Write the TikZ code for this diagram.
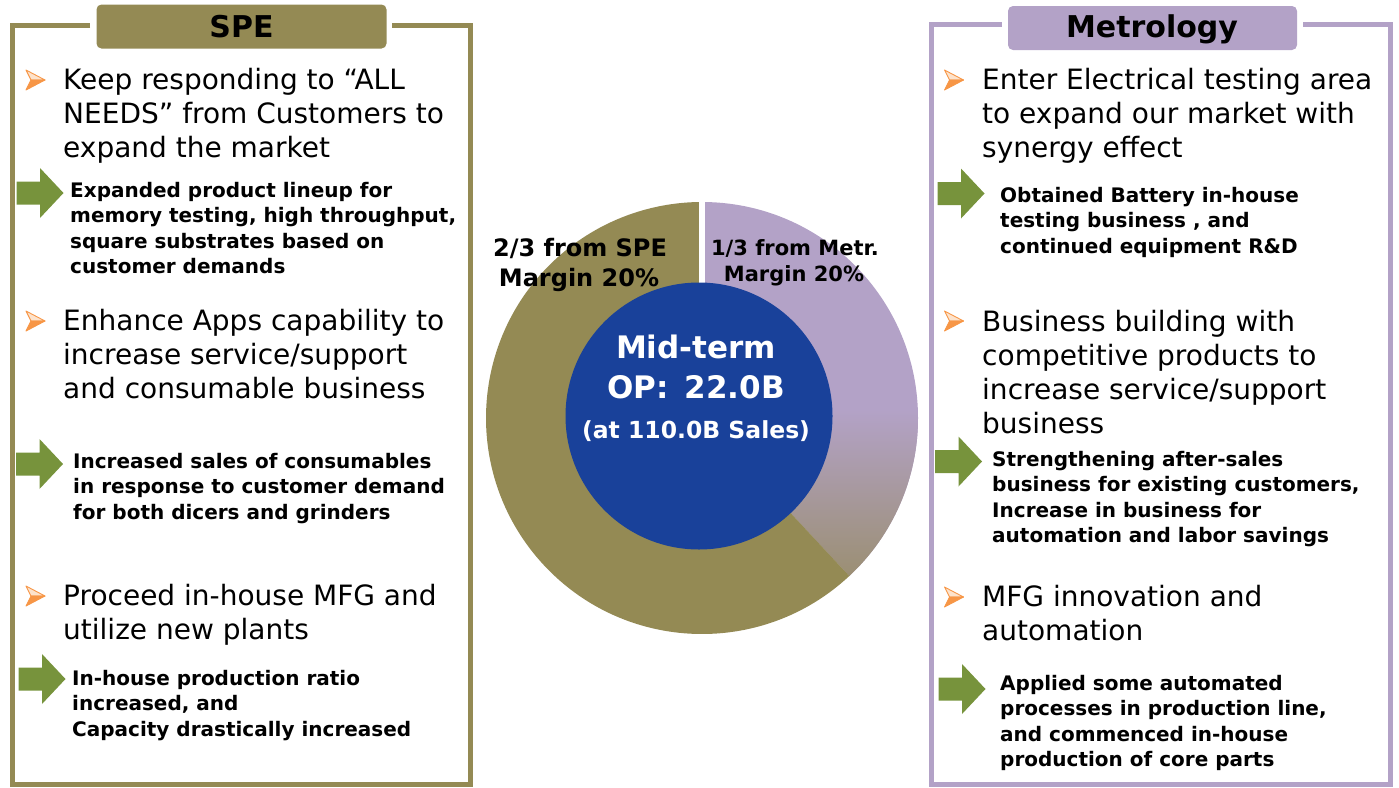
\documentclass[tikz,border=0pt]{standalone}
\usepackage{fontspec}
\setmainfont{DejaVu Sans}
\definecolor{spec}{HTML}{948A54}
\definecolor{metc}{HTML}{B3A2C7}
\definecolor{garrow}{HTML}{77933C}
\definecolor{bulor}{HTML}{F79646}
\definecolor{bullt}{HTML}{FDE3CC}
\definecolor{midblue}{HTML}{19419A}
\definecolor{fadec}{HTML}{968B62}
\newcommand\Lx[1]{\hbox{#1}}
\tikzset{
  reg/.style={font=\fontsize{28}{34}\selectfont, inner sep=0pt, anchor=base west},
  bld/.style={font=\bfseries\fontsize{20}{25.6}\selectfont, inner sep=0pt, anchor=base west},
  hdrbox/.style={rounded corners=5pt, minimum width=290pt, minimum height=44pt, inner sep=0pt},
  hdrtxt/.style={font=\bfseries\fontsize{30}{36}\selectfont, inner sep=0pt, anchor=base},
  lab/.style={font=\bfseries\fontsize{24}{30}\selectfont, inner sep=0pt, anchor=base},
  labs/.style={font=\bfseries\fontsize{21}{26}\selectfont, inner sep=0pt, anchor=base},
  ctr/.style={font=\bfseries\fontsize{31}{36}\selectfont, text=white, inner sep=0pt, anchor=base},
  ctrs/.style={font=\bfseries\fontsize{23.5}{28}\selectfont, text=white, inner sep=0pt, anchor=base},
  bul/.pic={
    \filldraw[fill=bullt, draw=bulor, line width=0.9pt, line join=round] (-9.5,-10) -- (9.5,0) -- (-4.5,0) -- cycle;
    \filldraw[fill=bulor, draw=bulor, line width=0.9pt, line join=round] (-4.5,0) -- (9.5,0) -- (-9.5,10) -- cycle;
  },
  garr/.pic={
    \fill[garrow] (-23.5,-11.5) -- (0,-11.5) -- (0,-25) -- (23.5,0) -- (0,25) -- (0,11.5) -- (-23.5,11.5) -- cycle;
  }
}
\begin{document}
\begin{tikzpicture}[x=1pt,y=-1pt]
\useasboundingbox (0,0) rectangle (1399,787);

% ---------- frames ----------
\draw[spec, line width=5pt] (90,25.5) -- (12,25.5) -- (12,784.5) -- (470.5,784.5) -- (470.5,25.5) -- (392,25.5);
\draw[metc, line width=5pt] (1002,24.5) -- (931,24.5) -- (931,784.5) -- (1390.5,784.5) -- (1390.5,24.5) -- (1303,24.5);

\node[hdrbox, fill=spec] (hspe) at (241.5,26.5) {};
\node[hdrtxt] (tspe) at (241.5,37) {SPE};
\node[hdrbox, fill=metc, minimum width=289pt] (hmet) at (1152.5,28) {};
\node[hdrtxt] (tmet) at (1152,37.5) {Metrology};

% ---------- donut ----------
\begin{scope}
  \clip (702,418) -- ++(0,-216) arc[start angle=-90, end angle=47, radius=216] -- cycle;
  \fill[metc] (690,190) rectangle (930,640);
  \shade[top color=metc, bottom color=fadec] (690,410) rectangle (930,610);
\end{scope}
\fill[spec] (702,418) -- ++(47:216) arc[start angle=47, end angle=270, radius=216] -- cycle;
\draw[white, line width=6pt] (702,418) -- (702,199);
\node[circle, fill=midblue, minimum size=267pt, inner sep=0pt] (core) at (699,416) {};
\node[ctr] (c1) at (696,358) {Mid-term};
\node[ctr] (c2) at (696,398) {OP:\, 22.0B};
\node[ctrs] (c3) at (696,438) {(at 110.0B Sales)};

\node[lab] (s1) at (580,256.5) {2/3 from SPE};
\node[lab] (s2) at (579,286.5) {Margin 20\%};
\node[labs] (m1) at (795,255) {1/3 from Metr.};
\node[labs] (m2) at (794,281.5) {Margin 20\%};

% ---------- left column ----------
\pic at (35.5,80) {bul};
\node[reg] (l1) at (63,89) {\vtop{\Lx{Keep responding to “ALL}\Lx{NEEDS” from Customers to}\Lx{expand the market}}};
\pic at (40,193) {garr};
\node[bld] (l1b) at (70,197) {\vtop{\Lx{Expanded product lineup for}\Lx{memory testing, high throughput,}\Lx{square substrates based on}\Lx{customer demands}}};

\pic at (35.5,321) {bul};
\node[reg] (l2) at (63,330) {\vtop{\Lx{Enhance Apps capability to}\Lx{increase service/support}\Lx{and consumable business}}};
\pic at (39.5,464) {garr};
\node[bld] (l2b) at (73,468) {\vtop{\Lx{Increased sales of consumables}\Lx{in response to customer demand}\Lx{for both dicers and grinders}}};

\pic at (35.5,596) {bul};
\node[reg] (l3) at (63,605) {\vtop{\Lx{Proceed in-house MFG and}\Lx{utilize new plants}}};
\pic at (42,679) {garr};
\node[bld] (l3b) at (72,685) {\vtop{\Lx{In-house production ratio}\Lx{increased, and}\Lx{Capacity drastically increased}}};

% ---------- right column ----------
\pic at (954,80) {bul};
\node[reg] (r1) at (982,89) {\vtop{\Lx{Enter Electrical testing area}\Lx{to expand our market with}\Lx{synergy effect}}};
\pic at (961,193.5) {garr};
\node[bld] (r1b) at (1000,202) {\vtop{\Lx{Obtained Battery in-house}\Lx{testing business , and}\Lx{continued equipment R\&D}}};

\pic at (954,321) {bul};
\node[reg] (r2) at (982,331) {\vtop{\Lx{Business building with}\Lx{competitive products to}\Lx{increase service/support}\Lx{business}}};
\pic at (958.5,461.5) {garr};
\node[bld] (r2b) at (992,466) {\vtop{\Lx{Strengthening after-sales}\Lx{business for existing customers,}\Lx{Increase in business for}\Lx{automation and labor savings}}};

\pic at (954,597) {bul};
\node[reg] (r3) at (982,606) {\vtop{\Lx{MFG innovation and}\Lx{automation}}};
\pic at (962,689) {garr};
\node[bld] (r3b) at (1000,690) {\vtop{\Lx{Applied some automated}\Lx{processes in production line,}\Lx{and commenced in-house}\Lx{production of core parts}}};
\end{tikzpicture}
\end{document}
